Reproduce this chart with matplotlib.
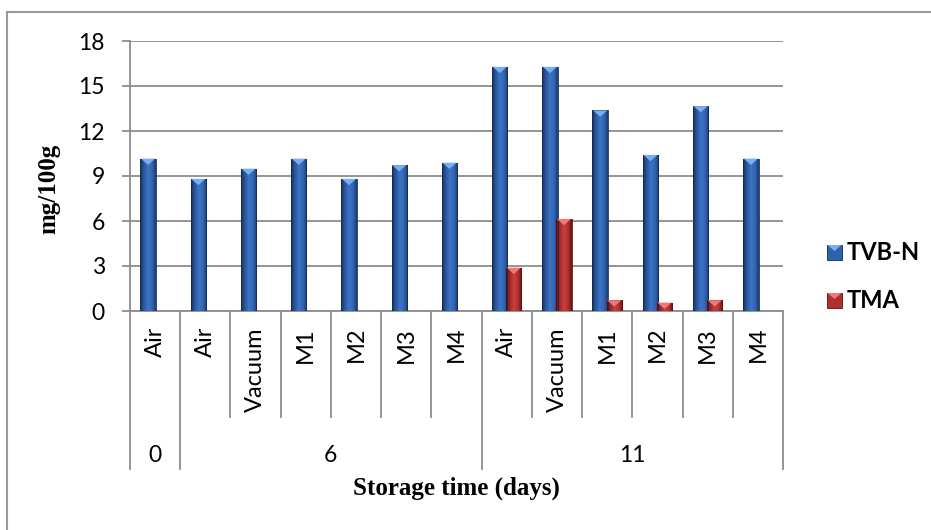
import numpy as np
import matplotlib
matplotlib.use('Agg')
import matplotlib.pyplot as plt
from matplotlib.colors import LinearSegmentedColormap
from matplotlib.patches import Polygon, Rectangle
from matplotlib.lines import Line2D
from matplotlib.transforms import blended_transform_factory

# data
days = ['0', '6', '11']
day_sizes = [1, 6, 6]
treatments = ['Air', 'Air', 'Vacuum', 'M1', 'M2', 'M3', 'M4',
              'Air', 'Vacuum', 'M1', 'M2', 'M3', 'M4']
tvbn = [10.16, 8.81, 9.49, 10.16, 8.81, 9.73, 9.89, 16.28, 16.28, 13.37, 10.41, 13.66, 10.16]
tma = [0, 0, 0, 0, 0, 0, 0, 2.89, 6.14, 0.72, 0.56, 0.72, 0]
series_names = ['TVB-N', 'TMA']

W, H = 931, 530
def fx(px): return px / W
def fy(py): return 1 - py / H

GRID = '#8c8c8c'
SANS = 'Lato'
SERIF = 'Liberation Serif'

fig = plt.figure(figsize=(W / 100, H / 100), dpi=100)
ax = fig.add_axes([fx(130), fy(311), fx(783) - fx(130), fy(41) - fy(311)])

blue_cmap = LinearSegmentedColormap.from_list('blue', ['#17325e', '#2a58a0', '#3d74c6', '#3367b3', '#1b3c73'])
red_cmap = LinearSegmentedColormap.from_list('red', ['#651010', '#a52828', '#c9403f', '#b43131', '#6c1313'])
grad = np.linspace(0, 1, 64).reshape(1, -1)

bw = 0.306
off = 0.14
x = np.arange(len(treatments)) + 0.5

def gradient_bars(xs, vals, cmap, edge, tri_color):
    keep = [i for i, v in enumerate(vals) if v > 0]
    xs = np.asarray(xs)[keep]
    vals = np.asarray(vals)[keep]
    bars = ax.bar(xs, vals, width=bw, color='none', edgecolor=edge, linewidth=0.6, zorder=4)
    for b, v in zip(bars, vals):
        x0 = b.get_x()
        x1 = x0 + b.get_width()
        im = ax.imshow(grad, extent=[x0, x1, 0, v], aspect='auto', cmap=cmap,
                       interpolation='bilinear', zorder=3)
        im.set_clip_path(b)
        th = min(0.42, v)
        ax.add_patch(Polygon([(x0 + 0.01, v), (x1 - 0.01, v), ((x0 + x1) / 2, v - th)],
                             closed=True, facecolor=tri_color, edgecolor='none', zorder=5))

gradient_bars(x - off, tvbn, blue_cmap, '#142b52', '#7aaef0')
gradient_bars(x + off, tma, red_cmap, '#5a0e0e', '#f07878')

ax.set_xlim(0, len(treatments))
ax.set_ylim(0, 18)
ax.set_yticks(range(0, 19, 3))
ax.set_xticks([])
ax.yaxis.grid(True, color=GRID, linewidth=1.3)
ax.set_axisbelow(True)
ax.tick_params(axis='y', length=6, width=1.3, color=GRID, pad=12, labelsize=16.5)
for lab in ax.get_yticklabels():
    lab.set_family(SANS)
for s in ['top', 'right']:
    ax.spines[s].set_visible(False)
for s in ['left', 'bottom']:
    ax.spines[s].set_color(GRID)
    ax.spines[s].set_linewidth(1.3)

# multi-level category axis
bt = blended_transform_factory(ax.transData, ax.transAxes)
bf = blended_transform_factory(ax.transData, fig.transFigure)
bounds = np.concatenate([[0], np.cumsum(day_sizes)])
for b in range(len(treatments) + 1):
    low = -(469 - 311) / 270 if b in bounds else -(417 - 311) / 270
    ax.plot([b, b], [0, low], transform=bt, color=GRID, linewidth=1.3, clip_on=False)

for xi, t in zip(x, treatments):
    ax.text(xi, fy(327), t, transform=bf, rotation=90, ha='center', va='top',
            fontsize=17, family=SANS)

for d, a, b in zip(days, bounds[:-1], bounds[1:]):
    ax.text((a + b) / 2, fy(462), d, transform=bf, ha='center', va='baseline',
            fontsize=16.5, family=SANS)

fig.text(fx(456), fy(495), 'Storage time (days)', ha='center', va='baseline',
         family=SERIF, weight='bold', fontsize=18)
fig.text(fx(49), fy(189), 'mg/100g', rotation=90, ha='center', va='center',
         family=SERIF, weight='bold', fontsize=18)

# legend
for name, face, edge, tri, top in [(series_names[0], '#2f62ae', '#142b52', '#7aaef0', 245),
                                   (series_names[1], '#b03030', '#5a0e0e', '#f07878', 293)]:
    fig.add_artist(Rectangle((fx(827), fy(top + 15)), 15 / W, 15 / H, transform=fig.transFigure,
                             facecolor=face, edgecolor=edge, linewidth=0.6))
    fig.add_artist(Polygon([(fx(827.5), fy(top)), (fx(841.5), fy(top)), (fx(834.5), fy(top + 6))],
                           transform=fig.transFigure, facecolor=tri, edgecolor='none'))
    fig.text(fx(847), fy(top + 15), name, ha='left', va='baseline',
             family=SANS, weight='bold', fontsize=17)

# outer frame (cropped on the right and bottom)
fig.add_artist(Line2D([fx(7), 1], [fy(12), fy(12)], transform=fig.transFigure, color='#9a9a9a', linewidth=1.5))
fig.add_artist(Line2D([fx(7), fx(7)], [fy(12), 0], transform=fig.transFigure, color='#9a9a9a', linewidth=1.5))

fig.savefig('out.png', dpi=100)
